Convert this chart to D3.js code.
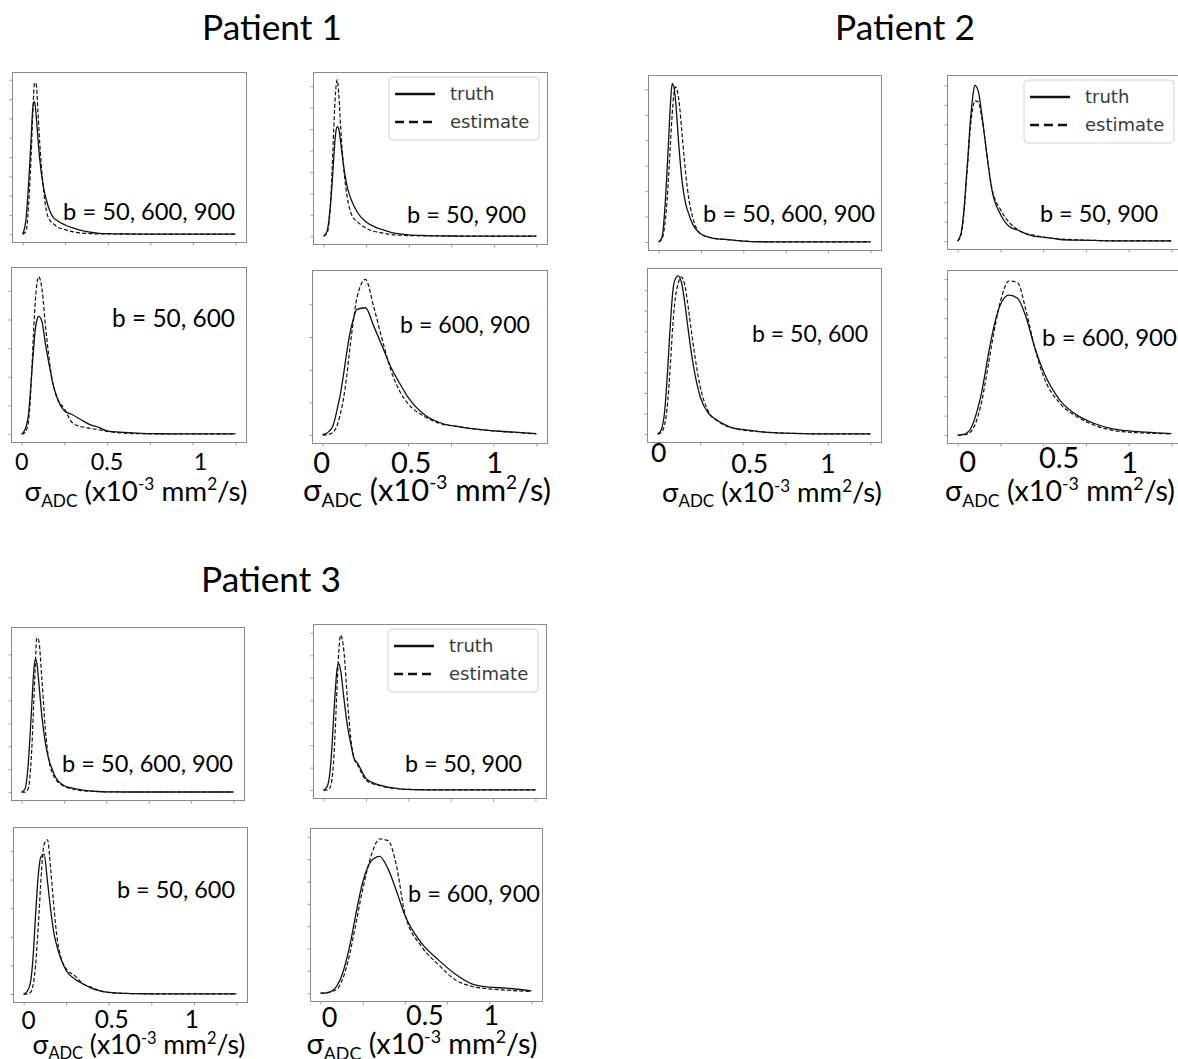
<!DOCTYPE html>
<html>
<head>
<meta charset="utf-8">
<title>sigma ADC distributions</title>
<script src="https://cdn.jsdelivr.net/npm/d3@7/dist/d3.min.js"></script>
<style>
body{margin:0;background:#fff;}
svg{display:block;}
</style>
</head>
<body>
<svg id="chart" width="1178" height="1059"></svg>
<script>
// sigma_ADC sampling grid (x10^-3 mm2/s)
var sigmaGrid = [0, 0.02, 0.04, 0.05, 0.06, 0.07, 0.08, 0.09, 0.1, 0.12, 0.14, 0.16, 0.18, 0.2,
                 0.25, 0.3, 0.35, 0.4, 0.45, 0.5, 0.6, 0.7, 0.8, 0.9, 1.0, 1.1, 1.25];
var patients = ["Patient 1", "Patient 2", "Patient 3"];
var bLabels = ["b = 50, 600, 900", "b = 50, 900", "b = 50, 600", "b = 600, 900"];
var seriesNames = ["truth", "estimate"];
var xMinorTicks = [0, 0.25, 0.5, 0.75, 1, 1.25];
var xTickValues = [0, 0.5, 1];
var xTickLabels = ["0", "0.5", "1"];

// relative density (% of panel maximum); rows: b = 50,600,900 / 50,900 / 50,600 / 600,900
var truthP1 = [
  [0, 10, 42, 62, 82, 86, 76, 62, 49, 32, 22, 15, 11, 9, 6, 4, 2.3, 1.3, 0.6, 0.4, 0.2, 0.1, 0.1, 0.1, 0.1, 0.1, 0.1],
  [0, 3, 20, 34, 51, 65, 70, 68, 60, 43, 31, 24, 19, 15, 9, 6, 4, 2.3, 1.5, 0.8, 0.4, 0.2, 0.1, 0.1, 0.1, 0.1, 0.1],
  [0, 3, 12.5, 25, 40, 54, 66, 72, 74, 70, 56, 44, 33, 25, 14.6, 12, 8.8, 5.9, 4.2, 2, 1, 0.4, 0.2, 0.1, 0.1, 0.1, 0.1],
  [0.4, 1, 2.7, 4, 6, 9.5, 14, 19, 24, 37, 52, 65, 74, 80, 81, 69, 56, 43, 33, 24, 12.6, 7.4, 5.3, 3.8, 2.7, 2.1, 1]
];
var estimateP1 = [
  [0, 2, 28, 51, 79, 98, 97, 79, 60, 32, 15, 9, 7, 5, 3, 1.5, 0.8, 0.4, 0.2, 0.2, 0.1, 0.1, 0.1, 0.1, 0.1, 0.1, 0.1],
  [0, 2, 20, 43, 70, 92, 100, 89, 70, 41, 24, 15, 11, 9, 5, 3, 2, 1, 0.6, 0.4, 0.2, 0.1, 0.1, 0.1, 0.1, 0.1, 0.1],
  [0, 1, 8, 21, 42, 65, 84, 95, 99, 90, 67, 48, 33, 25, 15.7, 6.7, 4.6, 3.6, 2.7, 1.7, 0.6, 0.2, 0.1, 0.1, 0.1, 0.1, 0.1],
  [0, 0.2, 0.6, 1, 1.7, 3, 5, 8, 12, 22, 37, 56, 73, 87, 99, 81, 60, 41, 28, 20, 11.6, 7, 5.3, 3.8, 2.7, 1.9, 0.8]
];
var truthP2 = [
  [0, 3, 26, 45, 66, 87, 99.5, 97.5, 89, 60, 37, 24, 17, 11.5, 5, 3, 2, 1.7, 1, 0.6, 0.2, 0.1, 0.1, 0.1, 0.1, 0.1, 0.1],
  [0, 5, 24, 39, 53, 70, 83, 93, 98.5, 95, 81, 64, 47, 32.5, 17, 9.4, 7, 4.6, 3, 2.5, 1, 0.6, 0.4, 0.2, 0.2, 0.2, 0.2],
  [0, 2.5, 13, 26, 42.5, 61.5, 78, 91, 97, 100, 96, 82.5, 65.7, 50, 23.6, 13, 8.8, 5.7, 3.6, 3, 1.5, 0.8, 0.4, 0.2, 0.1, 0.1, 0.1],
  [0, 0.2, 0.6, 1, 2, 3, 5, 7.4, 10.5, 18, 27, 39, 51.6, 63, 83, 89, 87, 75, 56, 41, 22, 12.6, 7.4, 4.2, 2.7, 1.9, 1]
];
var estimateP2 = [
  [0, 2, 14, 26, 43, 62, 80, 93, 97.5, 89, 66, 43, 26, 16, 5, 3, 2, 1.5, 1, 0.6, 0.2, 0.1, 0.1, 0.1, 0.1, 0.1, 0.1],
  [0, 4, 22, 37, 51, 66, 77.6, 85, 88.7, 88, 78.6, 64, 47, 33.5, 20, 12, 7.3, 4.8, 3.6, 2.5, 1.3, 0.8, 0.4, 0.2, 0.2, 0.2, 0.2],
  [0, 0.8, 5.7, 11, 21.5, 36, 53, 70, 82.5, 95, 99.4, 94, 80, 63.6, 30, 14, 8.4, 5.3, 3.6, 2.5, 1.5, 0.8, 0.4, 0.2, 0.1, 0.1, 0.1],
  [0, 0, 0.2, 0.4, 0.8, 1.5, 2.5, 4.2, 6.3, 12.6, 21, 32.6, 45, 58, 85, 98, 97, 79, 56, 38, 20, 11.6, 6.3, 3.2, 1.9, 1.3, 0.8]
];
var truthP3 = [
  [0, 2, 19, 36, 55, 74, 84.5, 82, 71.6, 48, 31.6, 21, 14.7, 9.5, 4.2, 2.5, 1.5, 0.8, 0.4, 0.2, 0.1, 0.1, 0.1, 0.1, 0.1, 0.1, 0.1],
  [0, 2, 14, 28.5, 47.6, 64.5, 77, 80, 76, 58, 41, 29.6, 20, 17, 7.4, 4.2, 2.7, 1.5, 0.8, 0.4, 0.2, 0.1, 0.1, 0.1, 0.1, 0.1, 0.1],
  [0, 1.5, 7.4, 16, 30.6, 49.7, 66.6, 79, 86, 88, 70.8, 52, 37, 28.5, 14.8, 9.5, 6.3, 3.6, 2, 1, 0.4, 0.2, 0.1, 0.1, 0.1, 0.1, 0.1],
  [0, 0, 0.4, 0.6, 1, 1.7, 2.5, 3.6, 5.3, 9.5, 15.8, 24, 33.7, 45, 70.5, 84, 87, 79, 65, 49.5, 31.6, 21, 12, 5.7, 3.8, 3.2, 1.5]
];
var estimateP3 = [
  [0, 0, 2.5, 10.5, 27, 52.6, 78, 98, 97, 71.6, 40, 21, 12.6, 8.4, 3.8, 2, 1, 0.6, 0.4, 0.2, 0.1, 0.1, 0.1, 0.1, 0.1, 0.1, 0.1],
  [0, 0, 2, 7.4, 20, 41, 66.6, 87.7, 98, 87.7, 58, 33, 20, 16, 6.3, 3.6, 2.3, 1.3, 0.8, 0.4, 0.2, 0.1, 0.1, 0.1, 0.1, 0.1, 0.1],
  [0, 0, 1, 3, 8.5, 18, 32.8, 49.7, 68.7, 94, 97, 77, 52, 32.8, 15.8, 11.6, 6.3, 4.2, 2, 1, 0.4, 0.2, 0.1, 0.1, 0.1, 0.1, 0.1],
  [0, 0, 0.2, 0.4, 0.6, 1, 1.5, 2, 2.7, 6.3, 11.6, 19, 28.4, 39, 66, 87.4, 98, 97, 81, 50.5, 29.5, 18, 8.4, 4.2, 2.7, 1.9, 1]
];
var truthAll = [truthP1, truthP2, truthP3];
var estimateAll = [estimateP1, estimateP2, estimateP3];

// ---- layout (pixels) ----
var titlePos = [[272, 40], [905, 40], [271, 592]];
// frame of each panel: [left, top, right, bottom]
var frames = [
  [[12, 72, 246, 242], [313, 72, 547, 244], [11, 267, 246, 442], [312, 270, 547, 443]],
  [[648, 75, 881, 250], [947, 75, 1182, 249], [647, 268, 881, 442], [947, 270, 1182, 443]],
  [[11, 627, 244, 800], [313, 624, 546, 798], [13, 827, 247, 1002], [310, 828, 542, 1001]]
];
var yTickStep = [[12.5, 13.7, 18, 20.8], [16, 12.3, 13, 12.4], [14.6, 14.2, 18, 14.2]];
// b label: [right x, baseline, width]
var bPos = [
  [[235, 220, 172], [526, 223, 119], [235, 327, 123], [530, 333, 130]],
  [[875, 222, 172], [1158, 222, 118], [868, 342, 116], [1177, 346, 135]],
  [[233, 772, 171], [522, 772, 117], [235, 898, 118], [540, 902, 132]]
];
// tick numbers under the bottom panels: nudge from tick, baselines, font size
var tickNudge = [[[0, 0, 8], [-1, 3, 1]], [[1, 7, 0], [10, 16, 1]], [[5, 3, -2], [9, 20, 2]]];
var tickBase = [[[470, 470, 470], [473, 473, 473]], [[462, 473, 473], [472, 468, 473]], [[1029, 1028, 1028], [1027, 1025, 1025]]];
var tickFont = [[23.3, 29], [26.5, 29], [24.5, 27]];
// axis title: [centre x, baseline, width]
var axisPos = [[[136, 501, 223], [427, 501, 248]], [[772, 502, 220], [1060, 501, 230]], [[139, 1054, 213], [422, 1054, 231]]];

var FONT = "Lato, 'Open Sans', sans-serif";
var svg = d3.select("#chart");

function fitWidth(sel, target) {
  var fs = parseFloat(sel.attr("font-size"));
  var w = sel.node().getComputedTextLength();
  sel.attr("font-size", (fs * target / w).toFixed(2));
}

function axisTitle(g, cx, base, size) {
  var t = g.append("text").attr("x", cx).attr("y", base).attr("text-anchor", "middle")
    .attr("font-family", FONT).attr("font-size", size).attr("fill", "#000");
  var small = size * 0.62;
  t.append("tspan").text("σ");
  t.append("tspan").attr("font-size", small).attr("dy", size * 0.2).text("ADC");
  t.append("tspan").attr("dy", -size * 0.2).text(" (x10");
  t.append("tspan").attr("font-size", small).attr("dy", -size * 0.38).text("-3");
  t.append("tspan").attr("dy", size * 0.38).text(" mm");
  t.append("tspan").attr("font-size", small).attr("dy", -size * 0.38).text("2");
  t.append("tspan").attr("dy", size * 0.38).text("/s)");
  return t;
}

function drawPanel(p, k) {
  var box = frames[p][k];
  var g = svg.append("g");
  var x = d3.scaleLinear().domain([-0.0625, 1.3125]).range([box[0], box[2]]);
  var y = d3.scaleLinear().domain([-5, 105]).range([box[3], box[1]]);

  g.append("rect").attr("x", box[0] + 0.5).attr("y", box[1] + 0.5)
    .attr("width", box[2] - box[0]).attr("height", box[3] - box[1])
    .attr("fill", "#fff").attr("stroke", "#8a8a8a").attr("stroke-width", 1);

  var xAxis = g.append("g").attr("transform", "translate(0," + (box[3] + 0.5) + ")")
    .call(d3.axisBottom(x).tickValues(xMinorTicks).tickSize(3).tickFormat(""));
  var yAxis = g.append("g").attr("transform", "translate(" + (box[0] + 0.5) + ",0)")
    .call(d3.axisLeft(y).tickValues(d3.range(0, 101, yTickStep[p][k])).tickSize(3).tickFormat(""));
  [xAxis, yAxis].forEach(function(a) {
    a.select(".domain").remove();
    a.selectAll("line").attr("stroke", "#9a9a9a");
  });

  var line = d3.line().x(function(d, i) { return x(sigmaGrid[i]); }).y(function(d) { return y(d); })
    .curve(d3.curveMonotoneX);
  g.append("path").attr("d", line(truthAll[p][k])).attr("fill", "none")
    .attr("stroke", "#111").attr("stroke-width", 1.3);
  g.append("path").attr("d", line(estimateAll[p][k])).attr("fill", "none")
    .attr("stroke", "#111").attr("stroke-width", 1.2).attr("stroke-dasharray", "4,2.2");

  // legend on the upper right panels
  if (k == 1) {
    var lx = box[2] - 158, ly = box[1] + 5;
    var lg = g.append("g").attr("transform", "translate(" + lx + "," + ly + ")");
    lg.append("rect").attr("width", 150).attr("height", 63).attr("rx", 4)
      .attr("fill", "#fff").attr("fill-opacity", 0.9).attr("stroke", "#d2d2d2");
    seriesNames.forEach(function(s, i) {
      var yy = 17 + i * 28;
      lg.append("line").attr("x1", 6).attr("x2", 46).attr("y1", yy).attr("y2", yy)
        .attr("stroke", "#111").attr("stroke-width", 2.4)
        .attr("stroke-dasharray", i == 1 ? "9,5" : null);
      lg.append("text").attr("x", 61).attr("y", yy + 6).attr("font-family", "'DejaVu Sans', sans-serif")
        .attr("font-size", 18).attr("fill", "#3a3a3a").text(s);
    });
  }

  var bt = g.append("text").attr("x", bPos[p][k][0]).attr("y", bPos[p][k][1]).attr("text-anchor", "end")
    .attr("font-family", FONT).attr("font-size", 24).attr("fill", "#000").text(bLabels[k]);
  fitWidth(bt, bPos[p][k][2]);

  // numbers and axis title under the bottom row
  if (k >= 2) {
    var j = k - 2;
    xTickValues.forEach(function(v, i) {
      g.append("text").attr("x", x(v) + tickNudge[p][j][i]).attr("y", tickBase[p][j][i])
        .attr("text-anchor", "middle").attr("font-family", FONT).attr("font-size", tickFont[p][j])
        .attr("fill", "#000").text(xTickLabels[i]);
    });
    var a = axisPos[p][j];
    var t0 = axisTitle(g, a[0], a[1], 24);
    var w0 = t0.node().getComputedTextLength();
    t0.remove();
    axisTitle(g, a[0], a[1], 24 * a[2] / w0);
  }
}

patients.forEach(function(name, p) {
  var t = svg.append("text").attr("x", titlePos[p][0]).attr("y", titlePos[p][1]).attr("text-anchor", "middle")
    .attr("font-family", FONT).attr("font-size", 32).attr("fill", "#000").text(name);
  fitWidth(t, 140);
  for (var k = 0; k < 4; k++) drawPanel(p, k);
});
</script>
</body>
</html>
